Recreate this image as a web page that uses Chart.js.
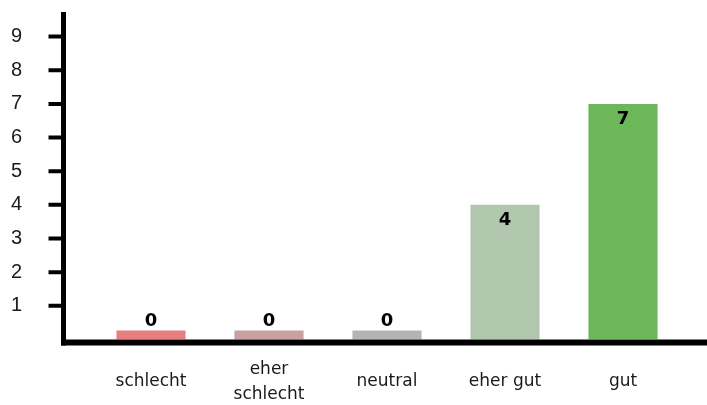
<!DOCTYPE html>
<html>
<head>
<meta charset="utf-8">
<script src="https://cdn.jsdelivr.net/npm/chart.js@4/dist/chart.umd.min.js"></script>
<style>
  body { margin: 0; background: #fff; }
  canvas { display: block; }
</style>
</head>
<body>
<canvas id="myChart" width="707" height="405"></canvas>
<script>
const categories = [['schlecht'], ['eher', 'schlecht'], ['neutral'], ['eher gut'], ['gut']];
const counts = [0, 0, 0, 4, 7];
const barColors = ['#e77f7f', '#c9a09f', '#b4b4b4', '#b2c8ae', '#6bb75a'];
const yTicks = [1, 2, 3, 4, 5, 6, 7, 8, 9];

// thick black axes + short tick marks on the left
const axisLines = {
  id: 'axisLines',
  afterDatasetsDraw(chart) {
    const ctx = chart.ctx;
    const area = chart.chartArea;
    const y = chart.scales.y;
    const ax = area.left - 28.5;
    ctx.save();
    ctx.strokeStyle = '#000';
    ctx.lineWidth = 5;
    ctx.beginPath();
    ctx.moveTo(ax, 12);
    ctx.lineTo(ax, area.bottom + 6);
    ctx.stroke();
    ctx.lineWidth = 6;
    ctx.beginPath();
    ctx.moveTo(ax - 2.5, area.bottom + 3);
    ctx.lineTo(chart.width, area.bottom + 3);
    ctx.stroke();
    ctx.lineWidth = 4;
    ctx.beginPath();
    yTicks.forEach(v => {
      const py = y.getPixelForValue(v);
      ctx.moveTo(ax - 15, py);
      ctx.lineTo(ax + 2, py);
    });
    ctx.stroke();
    ctx.restore();
  }
};

// value labels: above zero bars, inside the top of the others
const valueLabels = {
  id: 'valueLabels',
  afterDraw(chart) {
    const ctx = chart.ctx;
    const meta = chart.getDatasetMeta(0);
    ctx.save();
    ctx.fillStyle = '#000';
    ctx.font = 'bold 18px "DejaVu Sans", sans-serif';
    ctx.textAlign = 'center';
    ctx.textBaseline = 'alphabetic';
    meta.data.forEach((bar, i) => {
      const v = counts[i];
      const ty = v === 0 ? bar.y - 5 : bar.y + 20;
      ctx.fillText(String(v), bar.x, ty);
    });
    ctx.restore();
  }
};

new Chart('myChart', {
  type: 'bar',
  data: {
    labels: categories,
    datasets: [{
      data: counts,
      backgroundColor: barColors,
      borderWidth: 0,
      minBarLength: 9,
      barPercentage: 0.586,
      categoryPercentage: 1
    }]
  },
  options: {
    responsive: false,
    animation: false,
    layout: { padding: { top: 13, right: 25, left: 0, bottom: 0 } },
    plugins: {
      legend: { display: false },
      tooltip: { enabled: false }
    },
    scales: {
      x: {
        grid: { display: false, drawTicks: false },
        border: { display: false },
        afterFit(scale) { scale.height = 65.5; },
        ticks: {
          color: '#1a1a1a',
          padding: 30,
          crossAlign: 'center',
          maxRotation: 0,
          autoSkip: false,
          font: { family: 'DejaVu Sans', size: 17, lineHeight: 1.47 }
        }
      },
      y: {
        min: 0,
        max: 9.7,
        grid: { display: false, drawTicks: false },
        border: { display: false },
        afterFit(scale) {
          scale.width = 92;
          scale.paddingTop = 0;
          scale.paddingBottom = 0;
        },
        afterBuildTicks(scale) { scale.ticks = yTicks.map(v => ({ value: v })); },
        ticks: {
          color: '#1a1a1a',
          padding: 70,
          font: { family: 'Liberation Sans', size: 20 }
        }
      }
    }
  },
  plugins: [axisLines, valueLabels]
});
</script>
</body>
</html>
